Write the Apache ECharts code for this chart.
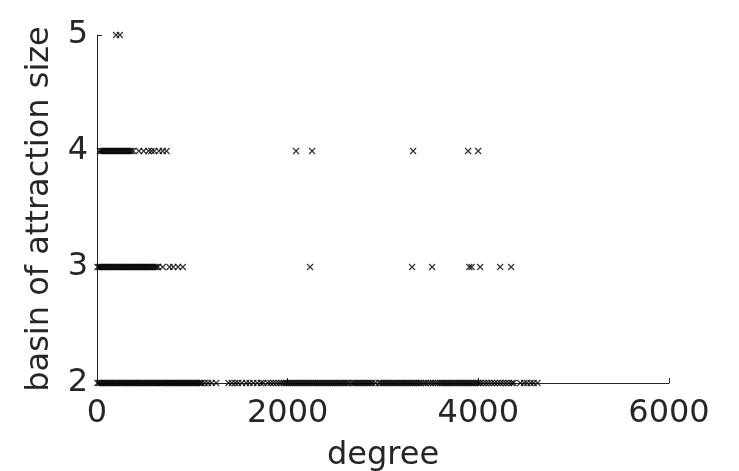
<!DOCTYPE html>
<html>
<head>
<meta charset="utf-8">
<script src="https://cdn.jsdelivr.net/npm/echarts@6/dist/echarts.min.js"></script>
<style>
  html, body { margin: 0; padding: 0; background: #fff; }
  #chart { width: 739px; height: 471px; }
</style>
</head>
<body>
<div id="chart"></div>
<script>
// degree values of the nodes for each basin of attraction size
let degreeSize2 = [
  5, 20, 38, 52, 70, 85, 100, 118, 133, 150, 165, 182, 198, 213, 230, 246, 262,
  278, 295, 310, 327, 342, 358, 375, 390, 407, 423, 440, 455, 472, 488, 503, 520,
  536, 552, 568, 585, 600, 617, 633, 648, 665, 681, 697, 713, 730, 745, 762, 778,
  795, 810, 826, 842, 858, 875, 890, 907, 922, 938, 955, 970, 987, 1003, 1018,
  1035, 1050, 1068, 1085, 1100, 1130, 1165, 1200, 1250,
  1380, 1415, 1450, 1480, 1520, 1565, 1600, 1640, 1680, 1720, 1745, 1790, 1820,
  1850, 1880, 1910, 1935, 1960, 1980, 2000, 2020, 2040, 2060, 2080, 2100, 2120,
  2140, 2160, 2180, 2200, 2220, 2240, 2260, 2280, 2300, 2320, 2340, 2360, 2380,
  2400, 2420, 2440, 2460, 2480, 2500, 2520, 2540, 2560, 2580, 2600, 2620, 2640,
  2670, 2690, 2710, 2730, 2750, 2770, 2790, 2810, 2830, 2850, 2870, 2890, 2920,
  2960, 2980, 3000, 3020, 3040, 3060, 3080, 3100, 3120, 3140, 3160, 3180, 3200,
  3220, 3240, 3260, 3280, 3300, 3320, 3340, 3360, 3380, 3400, 3425, 3450, 3475,
  3500, 3525, 3550, 3575, 3600, 3620, 3640, 3660, 3680, 3700, 3720, 3740, 3760,
  3780, 3800, 3820, 3840, 3860, 3880, 3900, 3920, 3940, 3960, 3980, 4000, 4020,
  4050, 4080, 4110, 4140, 4170, 4200, 4230, 4260, 4290, 4320, 4350, 4370,
  4440, 4480, 4510, 4550, 4580, 4620
];
let degreeSize3 = [
  5, 20, 35, 50, 65, 80, 95, 110, 125, 140, 155, 170, 185, 200, 215, 230, 245,
  260, 275, 290, 305, 320, 335, 350, 365, 380, 395, 410, 425, 440, 455, 470, 485,
  500, 515, 530, 545, 560, 575, 590, 610, 625, 640, 690, 760, 800, 850, 900,
  2235, 3305, 3515, 3905, 3930, 4019, 4229, 4344
];
let degreeSize4 = [
  30, 45, 60, 75, 90, 105, 120, 135, 150, 165, 180, 195, 210, 225, 240, 255,
  270, 285, 300, 315, 330, 345, 360, 380,
  440, 490, 540, 570, 600, 650, 690, 730,
  2088, 2256, 3316, 3893, 3998
];
let degreeSize5 = [200, 240];

let basinSizes = [2, 3, 4, 5];
let degreeLists = [degreeSize2, degreeSize3, degreeSize4, degreeSize5];

let xTicks = [0, 2000, 4000, 6000];
let yTicks = [2, 3, 4, 5];

let points = [];
basinSizes.forEach(function (size, i) {
  degreeLists[i].forEach(function (d) {
    points.push([d, size]);
  });
});

let myChart = echarts.init(document.getElementById('chart'));

let textColor = '#262626';
let fontFamily = 'DejaVu Sans';

myChart.setOption({
  backgroundColor: '#ffffff',
  animation: false,
  grid: {
    left: 97,
    right: 70,
    top: 35,
    bottom: 88,
    containLabel: false,
    outerBoundsMode: 'none'
  },
  xAxis: {
    type: 'value',
    min: xTicks[0],
    max: xTicks[xTicks.length - 1],
    interval: 2000,
    name: 'degree',
    nameLocation: 'middle',
    nameGap: 57,
    nameTextStyle: { color: textColor, fontSize: 32, fontFamily: fontFamily },
    axisLine: { lineStyle: { color: textColor, width: 1 } },
    axisTick: { inside: true, length: 5, lineStyle: { color: textColor } },
    axisLabel: {
      color: textColor, fontSize: 32, fontFamily: fontFamily, margin: 15,
      formatter: function (value) { return String(value); }
    },
    splitLine: { show: false }
  },
  yAxis: {
    type: 'value',
    min: yTicks[0],
    max: yTicks[yTicks.length - 1],
    interval: 1,
    name: 'basin of attraction size',
    nameLocation: 'middle',
    nameGap: 41,
    nameTextStyle: { color: textColor, fontSize: 32, fontFamily: fontFamily },
    axisLine: { show: true, lineStyle: { color: textColor, width: 1 } },
    axisTick: { show: true, inside: true, length: 5, lineStyle: { color: textColor } },
    axisLabel: { color: textColor, fontSize: 32, fontFamily: fontFamily, margin: 9 },
    splitLine: { show: false }
  },
  series: [
    {
      type: 'scatter',
      symbol: 'path://M0,0L10,10M10,0L0,10',
      symbolSize: 6,
      itemStyle: {
        color: 'none',
        borderColor: '#000000',
        borderWidth: 1.2
      },
      data: points
    }
  ]
});
</script>
</body>
</html>
